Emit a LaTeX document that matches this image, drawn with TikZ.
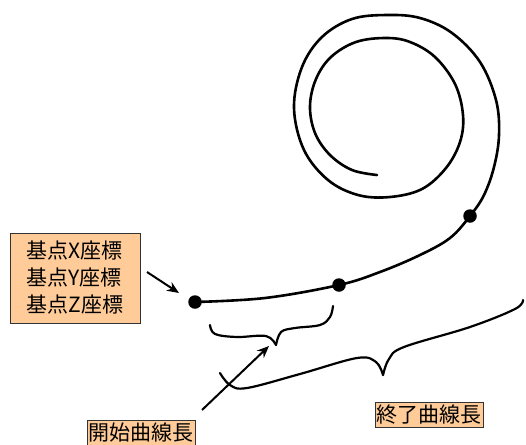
\documentclass[tikz,border=0pt]{standalone}
\usepackage{fontspec}
\newfontfamily\cjk{Noto Sans CJK JP}
\usetikzlibrary{arrows.meta}
\definecolor{boxfill}{HTML}{FFCC99}
\begin{document}
\begin{tikzpicture}[x=1pt,y=-1pt,
  lbl/.style={draw=black!80, line width=0.8pt, fill=boxfill, inner sep=0pt, font=\cjk\fontsize{21}{27}\selectfont},
  dotnode/.style={circle, fill=black, inner sep=0pt, minimum size=13.5pt},
  curve/.style={line width=2.6pt, line cap=round, line join=round},
  brace/.style={line width=2.2pt, line cap=round, line join=round},
  arr/.style={line width=2pt, -{Stealth[length=12pt,width=10pt]}}]
\useasboundingbox (0,0) rectangle (526,444);

% labels
\node[lbl, minimum width=130pt, minimum height=90pt, align=left] (base) at (75,278)
  {基点X座標\\基点Y座標\\基点Z座標};
\node[lbl, minimum width=108pt, minimum height=26pt] (start) at (141,433) {開始曲線長};
\node[lbl, minimum width=108pt, minimum height=25pt] (end) at (429,414.5) {終了曲線長};

% dots
\node[dotnode] (d1) at (195,302) {};
\node[dotnode] (d2) at (339,285) {};
\node[dotnode] (d3) at (470,216) {};

% main curve with spiral
\draw[curve] plot[smooth, tension=0.6] coordinates {
 (195,302) (265,298) (339,285) (380,272) (420,255) (450,238) (470,216)
 (484,195) (494,167) (499,135) (496,100) (480,62) (452,33) (420,18) (387,15)
 (352,19) (322,37) (302,67) (294,108) (304,150) (328,180) (358,195) (390,197)
 (422,189) (446,168) (460,142) (463,115) (455,84) (435,57) (410,42) (386,38)
 (356,42) (331,57) (316,79) (310,106) (315,133) (330,155) (352,170) (377,175)};

% small brace
\draw[brace] plot[smooth, tension=0.6] coordinates {
 (210,325) (215,334) (237,337) (266,336) (276,345)};
\draw[brace] plot[smooth, tension=0.6] coordinates {
 (276,345) (281,332) (295,328) (320,325) (330,317) (333,306)};

% large brace
\draw[brace] plot[smooth, tension=0.6] coordinates {
 (220,373) (230,385) (247,388) (300,374) (357,358) (376,362) (383,375)};
\draw[brace] plot[smooth, tension=0.6] coordinates {
 (383,375) (389,359) (404,347) (470,327) (515,309) (523,300)};

% arrows
\coordinate (a1s) at (147,272);
\coordinate (a1e) at (179,293);
\draw[arr] (a1s) -- (a1e);
\coordinate (a2s) at (202,410);
\coordinate (a2e) at (269,346);
\draw[arr] (a2s) -- (a2e);
\end{tikzpicture}
\end{document}
